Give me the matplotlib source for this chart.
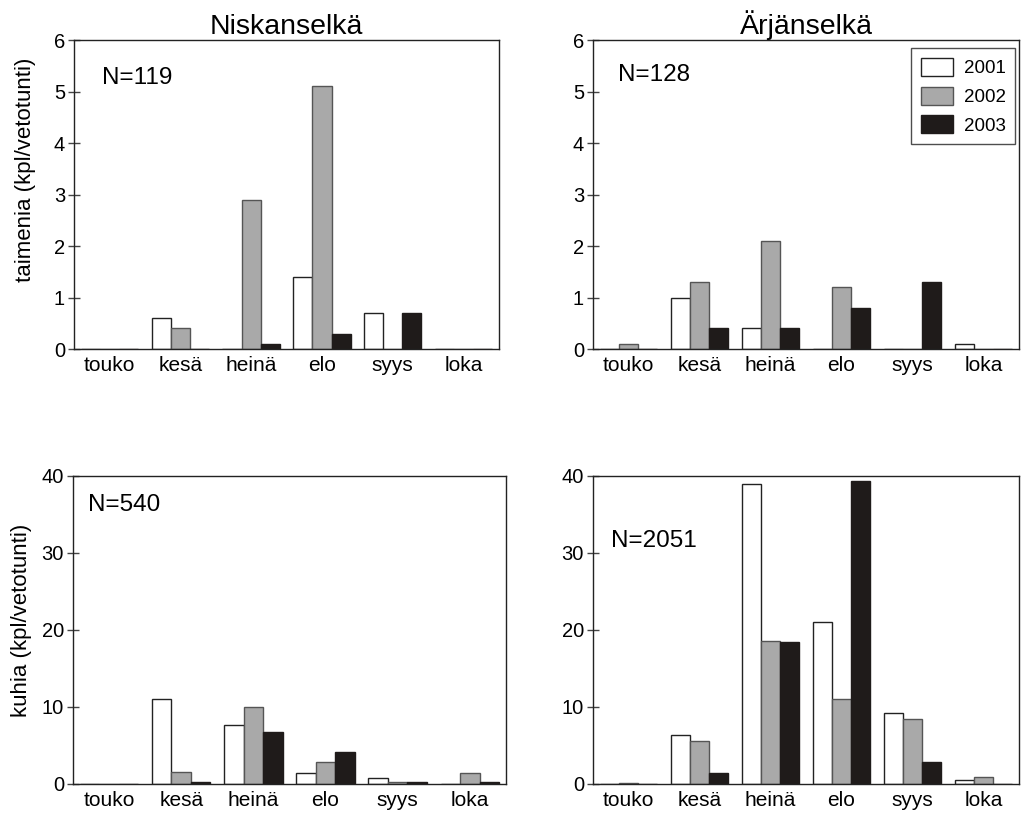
import numpy as np
import matplotlib
matplotlib.use('Agg')
import matplotlib.pyplot as plt

plt.rcParams['font.family'] = ['Liberation Sans', 'DejaVu Sans']

months = ['touko', 'kesä', 'heinä', 'elo', 'syys', 'loka']
years = ['2001', '2002', '2003']
colors = ['#ffffff', '#a9a9a9', '#1f1b1a']
edges = ['#222222', '#555555', '#1f1b1a']

# taimenia, Niskanselkä
nisk_taimen_2001 = [0, 0.6, 0, 1.4, 0.7, 0]
nisk_taimen_2002 = [0, 0.4, 2.9, 5.1, 0, 0]
nisk_taimen_2003 = [0, 0, 0.1, 0.3, 0.7, 0]
# taimenia, Ärjänselkä
arj_taimen_2001 = [0, 1.0, 0.4, 0, 0, 0.1]
arj_taimen_2002 = [0.1, 1.3, 2.1, 1.2, 0, 0]
arj_taimen_2003 = [0, 0.4, 0.4, 0.8, 1.3, 0]
# kuhia, Niskanselkä
nisk_kuha_2001 = [0, 11.1, 7.7, 1.4, 0.8, 0.05]
nisk_kuha_2002 = [0.05, 1.5, 10.0, 2.9, 0.3, 1.4]
nisk_kuha_2003 = [0, 0.3, 6.8, 4.1, 0.25, 0.25]
# kuhia, Ärjänselkä
arj_kuha_2001 = [0, 6.3, 38.9, 21.0, 9.2, 0.5]
arj_kuha_2002 = [0.1, 5.6, 18.6, 11.0, 8.5, 0.9]
arj_kuha_2003 = [0, 1.4, 18.4, 39.3, 2.8, 0]

panels = [
    ([0.0725, 0.5728, 0.4163, 0.3782], [nisk_taimen_2001, nisk_taimen_2002, nisk_taimen_2003], 'N=119', (0.066, 0.877), 6, range(0, 7)),
    ([0.5808, 0.5728, 0.4172, 0.3782], [arj_taimen_2001, arj_taimen_2002, arj_taimen_2003], 'N=128', (0.059, 0.887), 6, range(0, 7)),
    ([0.0715, 0.0404, 0.4240, 0.3770], [nisk_kuha_2001, nisk_kuha_2002, nisk_kuha_2003], 'N=540', (0.035, 0.906), 40, range(0, 41, 10)),
    ([0.5808, 0.0404, 0.4172, 0.3770], [arj_kuha_2001, arj_kuha_2002, arj_kuha_2003], 'N=2051', (0.042, 0.79), 40, range(0, 41, 10)),
]

fig = plt.figure(figsize=(10.21, 8.17), dpi=100)
x = np.arange(len(months))
w = 0.27
axes = []
for rect, series, ntext, npos, ymax, yt in panels:
    ax = fig.add_axes(rect)
    for i in range(3):
        ax.bar(x + (i - 1) * w, series[i], w, color=colors[i], edgecolor=edges[i],
               linewidth=1.0, label=years[i])
    ax.set_xlim(-0.5, 5.5)
    ax.set_ylim(0, ymax)
    ax.set_yticks(list(yt))
    ax.set_xticks(x)
    ax.set_xticklabels(months, fontsize=15)
    ax.tick_params(axis='x', length=0, pad=5)
    ax.tick_params(axis='y', direction='inout', length=9, width=1.0, color='#444444', labelsize=14.5, pad=2)
    for s in ax.spines.values():
        s.set_linewidth(1.0)
        s.set_color('#222222')
    ax.text(npos[0], npos[1], ntext, transform=ax.transAxes, fontsize=17.5, va='center', ha='left')
    axes.append(ax)

axes[0].set_title('Niskanselkä', fontsize=20.5, pad=2)
axes[1].set_title('Ärjänselkä', fontsize=20.5, pad=2)
axes[0].set_ylabel('taimenia (kpl/vetotunti)', fontsize=16, va='center')
axes[0].yaxis.set_label_coords(-0.115, 0.58)
axes[2].set_ylabel('kuhia (kpl/vetotunti)', fontsize=16, va='center')
axes[2].yaxis.set_label_coords(-0.12, 0.53)

leg = axes[1].legend(loc='upper right', bbox_to_anchor=(1.0, 0.985), fontsize=13.5, frameon=True,
                     fancybox=False, edgecolor='#222222', handlelength=1.7, handleheight=1.1,
                     labelspacing=0.5, borderpad=0.5, handletextpad=0.6, borderaxespad=0.2)
leg.get_frame().set_linewidth(1.0)

fig.savefig('out.png', dpi=100)
